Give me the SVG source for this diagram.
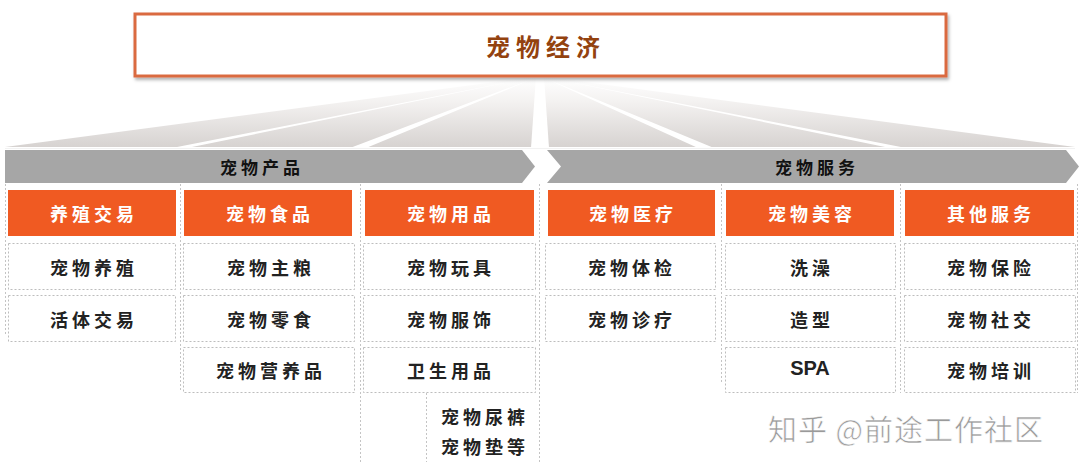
<svg xmlns="http://www.w3.org/2000/svg" width="1080" height="472" viewBox="0 0 1080 472">
<defs>
<linearGradient id="fan" x1="0" y1="78" x2="0" y2="148" gradientUnits="userSpaceOnUse">
<stop offset="0" stop-color="#FFFFFF"/>
<stop offset="0.35" stop-color="#F3F1F0"/>
<stop offset="1" stop-color="#D6D2D0"/>
</linearGradient>
<filter id="sh" x="-5%" y="-20%" width="110%" height="150%">
<feDropShadow dx="1.5" dy="2.5" stdDeviation="1.5" flood-color="#000" flood-opacity="0.3"/>
</filter>
<style>
.t{font-family:"Noto Sans CJK SC","Noto Sans",sans-serif;font-weight:700;dominant-baseline:central;text-anchor:middle}
.hd{fill:#F05A22}
.hdt{fill:#FFFFFF;font-size:18px;letter-spacing:4px}
.box{fill:#FFFFFF;stroke:#BDBDBD;stroke-width:1;stroke-dasharray:2 2}
.it{fill:#222222;font-size:18px;letter-spacing:4px}
.bar{fill:#A6A6A6}
.bt{fill:#111111;font-size:17px;letter-spacing:4px}
.sep{stroke:#C4C4C4;stroke-width:1;stroke-dasharray:2 2;fill:none}
</style>
</defs>
<rect width="1080" height="472" fill="#FFFFFF"/>

<g id="fan-bg">
<polygon points="540,76 5,147 1075,147" fill="url(#fan)"/>
<polygon points="540,76 172,148 187,148" fill="#FFFFFF"/>
<polygon points="540,76 350,148 366,148" fill="#FFFFFF"/>
<polygon points="536,76 531,148 549,148 544,76" fill="#FFFFFF"/>
<polygon points="540,76 698,148 714,148" fill="#FFFFFF"/>
<polygon points="540,76 890,148 906,148" fill="#FFFFFF"/>
<line x1="5" y1="148.5" x2="1075" y2="148.5" stroke="#F2F2F2" stroke-width="1"/>
</g>

<g id="title">
<rect x="135" y="14" width="811" height="62" fill="#FFFFFF" stroke="#DA6A40" stroke-width="3" filter="url(#sh)"/>
<text class="t" x="546" y="45" fill="#93420F" font-size="24" letter-spacing="6">宠物经济</text>
</g>

<g id="connectors">
<line class="sep" x1="5.5" y1="184" x2="5.5" y2="336"/>
<line class="sep" x1="180.5" y1="184" x2="180.5" y2="390"/>
<line class="sep" x1="360.5" y1="184" x2="360.5" y2="462"/>
<line class="sep" x1="426.5" y1="393" x2="426.5" y2="462"/>
<line class="sep" x1="539.5" y1="184" x2="539.5" y2="462"/>
<line class="sep" x1="721.5" y1="184" x2="721.5" y2="384"/>
<line class="sep" x1="900.5" y1="184" x2="900.5" y2="393"/>
<line class="sep" x1="1077.5" y1="184" x2="1077.5" y2="393"/>
</g>

<g id="bar-products">
<polygon class="bar" points="5,150 522,150 535,166.5 522,183 5,183"/>
<text class="t bt" x="262" y="166">宠物产品</text>
</g>
<g id="bar-services">
<polygon class="bar" points="547,150 1066,150 1079,166.5 1066,183 547,183 561,166.5"/>
<text class="t bt" x="817" y="166">宠物服务</text>
</g>

<g id="col-breeding">
<rect class="hd" x="8" y="190" width="168" height="46"/>
<text class="t hdt" x="94" y="213">养殖交易</text>
<rect class="box" x="8.5" y="243.5" width="167" height="46"/>
<text class="t it" x="94" y="267">宠物养殖</text>
<rect class="box" x="8.5" y="295.5" width="167" height="46"/>
<text class="t it" x="94" y="319">活体交易</text>
</g>

<g id="col-food">
<rect class="hd" x="184" y="190" width="168" height="46"/>
<text class="t hdt" x="270" y="213">宠物食品</text>
<rect class="box" x="183.5" y="243.5" width="171" height="46"/>
<text class="t it" x="271" y="267">宠物主粮</text>
<rect class="box" x="183.5" y="295.5" width="171" height="46"/>
<text class="t it" x="271" y="319">宠物零食</text>
<rect class="box" x="183.5" y="347.5" width="171" height="45"/>
<text class="t it" x="271" y="370">宠物营养品</text>
</g>

<g id="col-supplies">
<rect class="hd" x="365" y="190" width="169" height="46"/>
<text class="t hdt" x="451" y="213">宠物用品</text>
<rect class="box" x="363.5" y="243.5" width="172" height="46"/>
<text class="t it" x="451" y="267">宠物玩具</text>
<rect class="box" x="363.5" y="295.5" width="172" height="46"/>
<text class="t it" x="451" y="319">宠物服饰</text>
<rect class="box" x="363.5" y="347.5" width="172" height="45"/>
<text class="t it" x="451" y="370">卫生用品</text>
<text class="t it" x="485" y="416">宠物尿裤</text>
<text class="t it" x="485" y="446">宠物垫等</text>
</g>

<g id="col-medical">
<rect class="hd" x="548" y="190" width="167" height="46"/>
<text class="t hdt" x="633" y="213">宠物医疗</text>
<rect class="box" x="545.5" y="243.5" width="170" height="46"/>
<text class="t it" x="632" y="267">宠物体检</text>
<rect class="box" x="545.5" y="295.5" width="170" height="46"/>
<text class="t it" x="632" y="319">宠物诊疗</text>
</g>

<g id="col-beauty">
<rect class="hd" x="726" y="190" width="168" height="46"/>
<text class="t hdt" x="812" y="213">宠物美容</text>
<rect class="box" x="725.5" y="243.5" width="170" height="46"/>
<text class="t it" x="812" y="267">洗澡</text>
<rect class="box" x="725.5" y="295.5" width="170" height="46"/>
<text class="t it" x="812" y="319">造型</text>
<rect class="box" x="725.5" y="347.5" width="170" height="45"/>
<text x="810" y="375" font-family="Liberation Sans, Arial, sans-serif" font-weight="700" font-size="20" text-anchor="middle" fill="#222222">SPA</text>
</g>

<g id="col-other">
<rect class="hd" x="905" y="190" width="169" height="46"/>
<text class="t hdt" x="991" y="213">其他服务</text>
<rect class="box" x="904.5" y="243.5" width="171" height="46"/>
<text class="t it" x="991" y="267">宠物保险</text>
<rect class="box" x="904.5" y="295.5" width="171" height="46"/>
<text class="t it" x="991" y="319">宠物社交</text>
<rect class="box" x="904.5" y="347.5" width="171" height="45"/>
<text class="t it" x="991" y="370">宠物培训</text>
</g>

<g id="watermark">
<text x="906" y="441" font-family="Noto Sans CJK SC, sans-serif" font-size="29" text-anchor="middle" fill="#9A9A9A" stroke="#FFFFFF" stroke-width="0.6" letter-spacing="1">知乎 @前途工作社区</text>
</g>
</svg>
